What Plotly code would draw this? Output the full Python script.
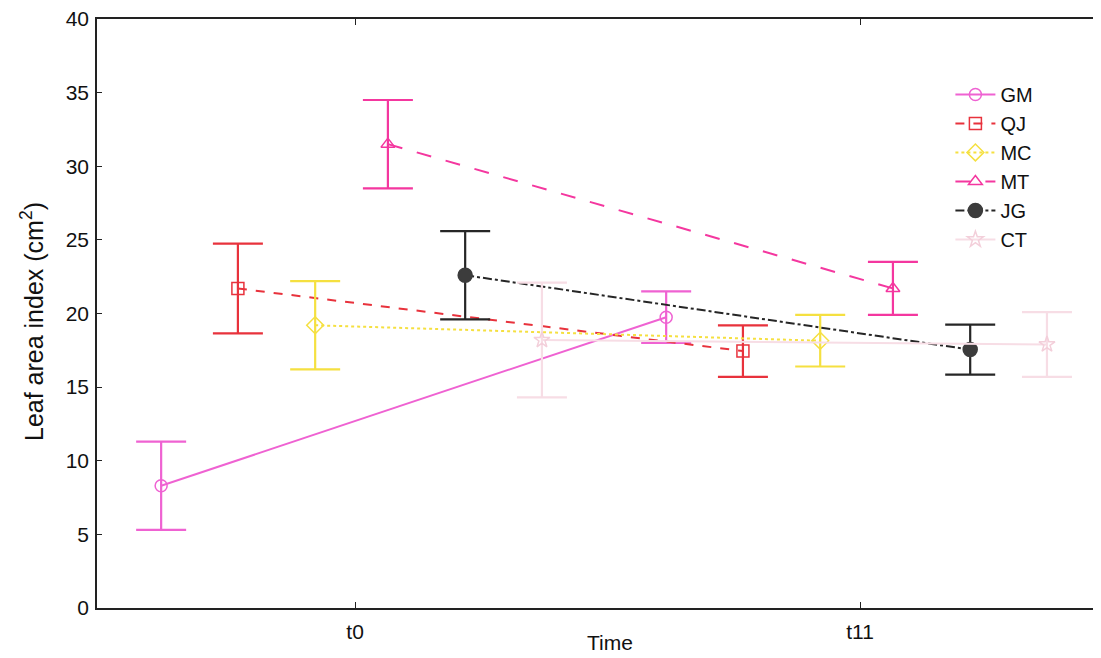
import plotly.graph_objects as go

times = ["t0", "t11"]
series = ["GM", "QJ", "MC", "MT", "JG", "CT"]
means = {
    "GM": [8.3, 19.75],
    "QJ": [21.7, 17.45],
    "MC": [19.2, 18.15],
    "MT": [31.5, 21.7],
    "JG": [22.6, 17.55],
    "CT": [18.2, 17.9],
}
errs = {
    "GM": [3.0, 1.75],
    "QJ": [3.05, 1.75],
    "MC": [3.0, 1.75],
    "MT": [3.0, 1.8],
    "JG": [3.0, 1.7],
    "CT": [3.9, 2.2],
}

offsets = [-0.384, -0.232, -0.079, 0.065, 0.218, 0.37]
styles = {
    "GM": dict(color="#ef62d2", dash="solid", symbol="circle-open", msize=12, mcolor="#ef62d2"),
    "QJ": dict(color="#e8323c", dash="dash", symbol="square-open", msize=12, mcolor="#e8323c"),
    "MC": dict(color="#f5e040", dash="dot", symbol="diamond-open", msize=13, mcolor="#f5e040"),
    "MT": dict(color="#f4379f", dash="longdash", symbol="triangle-up-open", msize=12, mcolor="#f4379f"),
    "JG": dict(color="#262626", dash="dashdot", symbol="circle", msize=14, mcolor="#3c3c3c"),
    "CT": dict(color="#f7dde5", dash="solid", symbol="star-open", msize=12, mcolor="#f3cfda"),
}

fig = go.Figure()
for i, s in enumerate(series):
    st = styles[s]
    xs = [k + offsets[i] for k in range(len(times))]
    fig.add_trace(go.Scatter(
        x=xs, y=means[s], name=s, mode="lines+markers",
        line=dict(color=st["color"], dash=st["dash"], width=2),
        marker=dict(symbol=st["symbol"], size=st["msize"], color=st["mcolor"],
                    line=dict(color=st["mcolor"], width=1.5)),
        error_y=dict(type="data", array=errs[s], visible=True,
                     color=st["color"], thickness=2.2, width=25),
    ))

fig.update_layout(
    width=1093, height=650,
    margin=dict(l=89, r=0, t=11, b=50),
    paper_bgcolor="white", plot_bgcolor="white",
    font=dict(family="Liberation Sans, Arial, sans-serif", color="#111", size=21),
    showlegend=True,
    legend=dict(x=0.85, y=0.905, xanchor="left", yanchor="top",
                bgcolor="rgba(0,0,0,0)", font=dict(size=20),
                tracegroupgap=0, itemwidth=40),
    annotations=[
        dict(text="Time", xref="paper", yref="paper", x=0.511, y=-0.059,
             xanchor="center", yanchor="middle", showarrow=False,
             font=dict(size=21)),
        dict(text="Leaf area index (cm<sup>2</sup>)", xref="paper", yref="paper",
             x=-0.0647, y=0.4856, xanchor="center", yanchor="middle",
             textangle=-90, showarrow=False, font=dict(size=25)),
    ],
)
fig.update_xaxes(
    range=[-0.511, 1.477], tickvals=[0, 1], ticktext=times,
    showgrid=False, zeroline=False, showline=True, linecolor="#222", linewidth=1.5,
    mirror="ticks", ticks="inside", ticklen=6, tickcolor="#222",
    tickfont=dict(size=21), automargin=False, ticklabelstandoff=4,
    ticklabeloverflow="allow",
)
fig.update_yaxes(
    range=[0, 40], tickvals=[0, 5, 10, 15, 20, 25, 30, 35, 40],
    showgrid=False, zeroline=False, showline=True, linecolor="#222", linewidth=1.5,
    mirror=False, ticks="inside", ticklen=5, tickcolor="#222",
    tickfont=dict(size=21), automargin=False, ticklabelstandoff=2,
    ticklabeloverflow="allow",
)

fig.write_html("out.html")
